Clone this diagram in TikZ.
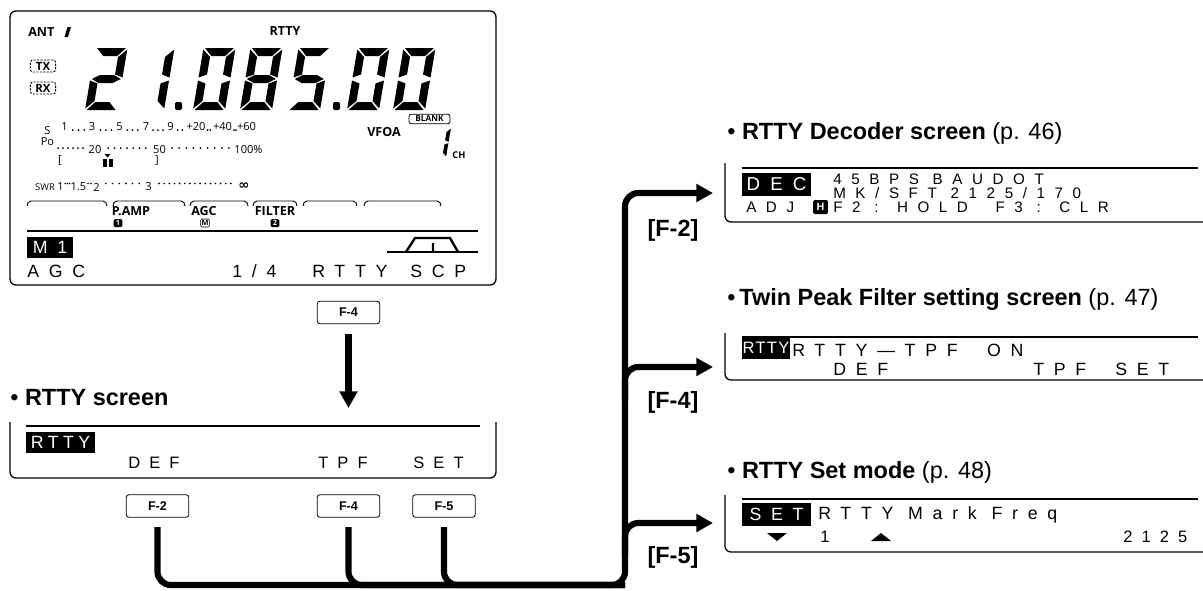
\documentclass[tikz,border=0pt]{standalone}
\usepackage{fontspec}
\setmainfont{Liberation Sans}
\newfontfamily\lcdfont[LetterSpace=55]{Liberation Sans}
\newfontfamily\lcdwide[LetterSpace=63]{Liberation Sans}
\newfontfamily\lcdmid[LetterSpace=25]{Liberation Sans}
\newfontfamily\lcdtight[LetterSpace=8]{Liberation Sans}
\newfontfamily\panelfont{Open Sans}
\newfontfamily\dejafont{DejaVu Sans}
\usetikzlibrary{arrows.meta, positioning}

% seven segment parts, origin at the bottom left of a digit
\def\sega{(1.5,-62) -- (30.5,-62) -- (23,-54) -- (9,-54) -- cycle}
\def\segb{(32,-60.5) -- (32,-32.5) -- (24,-35.5) -- (24,-53) -- cycle}
\def\segc{(32,-29.5) -- (32,-1.5) -- (24,-9) -- (24,-26.5) -- cycle}
\def\segd{(1.5,0) -- (30.5,0) -- (23,-8) -- (9,-8) -- cycle}
\def\sege{(0,-29.5) -- (8,-26.5) -- (8,-9) -- (0,-1.5) -- cycle}
\def\segf{(0,-60.5) -- (8,-53) -- (8,-35.5) -- (0,-32.5) -- cycle}
\def\segg{(1.5,-31) -- (9,-35) -- (23,-35) -- (30.5,-31) -- (23,-27) -- (9,-27) -- cycle}

\newcommand\lcddigit[3][1]{%
  \begin{scope}[shift={#2}, xslant=0.17, scale=#1]
    \foreach \s in {#3} {\fill \csname seg\s\endcsname;}
  \end{scope}}

\tikzset{
  frame/.style={line width=1pt, rounded corners=4.5pt},
  rule/.style={line width=1pt},
  lbl/.style={inner sep=0pt, font=\panelfont\bfseries\fontsize{9.4}{10}\selectfont},
  scaletxt/.style={inner sep=0pt, font=\panelfont\fontsize{8.3}{9}\selectfont},
  flag/.style={draw, dash pattern=on 1.6pt off 1pt, rounded corners=2pt, line width=0.7pt, minimum width=19pt, minimum height=9pt, inner sep=0pt, font=\panelfont\bfseries\fontsize{8.5}{9}\selectfont},
  icon/.style={fill=black, text=white, rounded corners=1pt, minimum width=6.5pt, minimum height=6pt, inner sep=0pt, font=\panelfont\bfseries\fontsize{5.5}{6}\selectfont},
  tab/.style={line width=0.7pt},
  lcd/.style={inner sep=0pt, anchor=west, font=\lcdfont\fontsize{13.3}{14}\selectfont},
  lcdkey/.style={lcd, font=\lcdfont\fontsize{12.4}{13}\selectfont},
  decline/.style={lcd, font=\lcdwide\fontsize{11.4}{12}\selectfont, text height=8pt, text depth=0pt},
  inverse/.style={fill=black, text=white, inner sep=0pt, font=\lcdfont\fontsize{13.3}{14}\selectfont},
  title/.style={inner sep=0pt, anchor=west, font=\fontsize{17.6}{18}\selectfont},
  keylbl/.style={inner sep=0pt, font=\bfseries\fontsize{17.6}{18}\selectfont},
  fkey/.style={draw, rounded corners=2.2pt, line width=0.6pt, minimum width=47pt, minimum height=17pt, inner sep=0pt, font=\bfseries\fontsize{9.5}{10}\selectfont},
  bus/.style={line width=4.6pt, rounded corners=10pt},
  arr/.style={bus, -{Triangle[length=12.5pt, width=13pt]}}
}

\begin{document}
\begin{tikzpicture}[x=0.75pt, y=-0.75pt]
\useasboundingbox (0,0) rectangle (1203,590);

% main display
\draw[frame] (10,11) rectangle (496,285);
\node[lbl, anchor=west] (ant) at (28,32) {ANT};
\fill (64.5,37) -- (68,37) -- (71,27) -- (67.5,27) -- cycle;
\node[lbl] (mode) at (285,31) {RTTY};
\node[flag] (tx) at (43,66) {TX};
\node[flag] (rx) at (43,88) {RX};
\lcddigit{(85,110)}{a,b,g,e,d}
\lcddigit{(132,110)}{b,c}
\fill[rounded corners=1pt] (175,102) rectangle (182,110);
\lcddigit{(193,110)}{a,b,c,d,e,f}
\lcddigit{(240,110)}{a,b,c,d,e,f,g}
\lcddigit{(288,110)}{a,f,g,c,d}
\fill[rounded corners=1pt] (333,102) rectangle (340,110);
\lcddigit{(347,110)}{a,b,c,d,e,f}
\lcddigit{(393,110)}{a,b,c,d,e,f}
\node[draw, rounded corners=1.5pt, line width=0.6pt, minimum width=30.75pt, minimum height=7pt, inner sep=0pt, font=\panelfont\bfseries\fontsize{6.2}{7}\selectfont] (blank) at (429.5,119) {BLANK};
\node[lbl] (vfo) at (384,132) {VFOA};
\lcddigit[0.47]{(431,157)}{b,c}
\node[lbl, font=\panelfont\bfseries\fontsize{7}{7}\selectfont] (ch) at (459,155) {CH};

% meters
\node[scaletxt] (s) at (47.5,131) {S};
\node[scaletxt] (po) at (47.5,142) {Po};
\node[scaletxt, font=\panelfont\fontsize{7}{7}\selectfont] (swr) at (45,187) {SWR};
\foreach \v/\x [count=\i] in {1/64.5, 3/92, 5/119.5, 7/146, 9/170.5, +20/196, +40/222.5, +60/246.5}
  \node[scaletxt] (sv\i) at (\x,127) {\v};
\foreach \a/\b/\n in {67/90/3, 95/117/3, 122/143/3, 148/168/3, 173/187/2, 205/213/2, 232/238/2}
  \foreach \k in {1,...,\n} \fill ({\a+(\b-\a)*\k/(\n+1)},130) circle (1);
\foreach \v/\x [count=\i] in {20/95, 50/159.5, 100\%/248.5}
  \node[scaletxt] (pv\i) at (\x,149.5) {\v};
\foreach \a/\b/\n in {53/88/6, 102/152/7, 165/236/9}
  \foreach \k in {1,...,\n} \fill ({\a+(\b-\a)*\k/(\n+1)},148) circle (1);
\node[scaletxt] (lb) at (60,160) {[};
\node[scaletxt] (rb) at (157,160) {]};
\fill (104.5,154) -- (110.5,154) -- (107.5,157.5) -- cycle;
\fill (103,158.5) rectangle (107,167);
\fill (109,158.5) rectangle (113,167);
\foreach \v/\x [count=\i] in {1/60.5, 1.5/78.5, 2/96.5, 3/148.5}
  \node[scaletxt] (wv\i) at (\x,187) {\v};
\foreach \a/\b/\n in {63/72/3, 85/94/2, 99/146/6, 154/236/15}
  \foreach \k in {1,...,\n} \fill ({\a+(\b-\a)*\k/(\n+1)},183.5) circle (0.9);
\node[scaletxt, font=\dejafont\bfseries\fontsize{10}{10}\selectfont] (inf) at (244,186.5) {∞};

% function tabs
\foreach \a/\b in {27/107, 113/185, 190/248, 253/297, 303/357, 364/441}
  \draw[tab] (\a,206) to[out=90, in=180] (\a+4,201) -- (\b-4,201) to[out=0, in=90] (\b,206);
\node[lbl] (pamp) at (131,211) {P.AMP};
\node[lbl] (agc) at (204,211) {AGC};
\node[lbl] (filt) at (275,211) {FILTER};
\node[icon] (ic1) at (118,223) {1};
\node[icon, fill=white, text=black, draw, line width=0.5pt] (icm) at (205,223) {M};
\node[icon] (ic2) at (275,223) {2};
\draw[rule] (27,231) -- (478,231);
\node[inverse, minimum width=34.5pt, minimum height=15.75pt] (m1) at (50,247.5) {M1};
\node[lcd] (agcb) at (27,271) {AGC};
\node[lcd] (page) at (232,271) {1/4};
\node[lcd] (rtty) at (312,271) {RTTY};
\node[lcd] (scp) at (410,271) {SCP};
\draw[line width=1.3pt] (387,252) -- (478,252);
\draw[line width=1.8pt] (406,252) -- (415,238) -- (450,238) -- (458,252) (433,243) -- (433,252);

% RTTY screen
\node[fkey] (f4top) at (348.5,312.5) {F-4};
\coordinate (rttyin) at (348.5,408);
\draw[arr, shorten <=7pt] (f4top) -- (rttyin);
\node[title] (ttlrtty) at (10,398) {\textbullet\ \textbf{RTTY screen}};
\draw[frame] (10,422) -- (10,478) -- (496,478) -- (496,422);
\draw[rule] (26,426) -- (480,426);
\node[inverse, font=\lcdmid\fontsize{13.3}{14}\selectfont, minimum width=51.75pt, minimum height=15.75pt] (inrtty) at (60.5,442.5) {RTTY};
\node[lcdkey] (def) at (128,463) {DEF};
\node[lcdkey] (tpf) at (318,463) {TPF};
\node[lcdkey] (set) at (413,463) {SET};
\node[fkey] (f2) at (157.5,506) {F-2};
\node[fkey] (f4) at (348.5,506) {F-4};
\node[fkey] (f5) at (444,506) {F-5};

% connectors
\coordinate (bus) at (625,585);
\coordinate (decin) at (713,193);
\coordinate (tpfin) at (713,367);
\coordinate (setin) at (713,523);
\coordinate (tpfbr) at (625,400);
\coordinate (setbr) at (625,555);
\draw[arr, shorten <=7pt] (f2) |- (bus) |- (decin);
\draw[bus, shorten <=7pt] (f4) |- (bus);
\draw[bus, shorten <=7pt] (f5) |- (bus);
\draw[arr] (tpfbr) |- (tpfin);
\draw[arr] (setbr) |- (setin);
\node[keylbl] (lf2) at (673,230) {[F-2]};
\node[keylbl] (lf4) at (673,402) {[F-4]};
\node[keylbl] (lf5) at (673,557) {[F-5]};

% decoder screen
\node[title] (ttldec) at (727,133) {\textbullet\ \textbf{RTTY Decoder screen} (p. 46)};
\draw[frame] (725,163) -- (725,222) -- (1203,222);
\draw[rule] (742,168) -- (1198,168);
\node[inverse, font=\lcdfont\fontsize{14}{14}\selectfont, minimum width=51.75pt, minimum height=17.25pt] (dec) at (776.5,184.5) {DEC};
\node[decline] (dec1) at (833,179) {45BPS BAUDOT};
\node[decline] (dec2) at (833,193) {MK/SFT 2125/170};
\node[decline] (dec3) at (746,207) {ADJ};
\node[icon, minimum width=11pt, minimum height=10.5pt, font=\bfseries\fontsize{8}{8}\selectfont] (hold) at (820.5,207) {H};
\node[decline] (dec4) at (833,207) {F2 : HOLD\ \ F3 : CLR};

% twin peak filter screen
\node[title] (ttltpf) at (727,299) {\textbullet\,\textbf{Twin Peak Filter setting screen} (p. 47)};
\draw[frame] (725,333) -- (725,380) -- (1203,380);
\draw[rule] (742,337) -- (1198,337);
\node[inverse, font=\lcdtight\fontsize{12.4}{13}\selectfont, minimum width=36pt, minimum height=16.5pt] (tpfinv) at (766,348) {RTTY};
\node[lcd] (tpf1) at (792,350) {RTTY—TPF\ \ ON};
\node[lcd] (tdef) at (833,369) {DEF};
\node[lcd] (ttpf) at (1033,369) {TPF};
\node[lcd] (tset) at (1115,369) {SET};

% set mode screen
\node[title] (ttlset) at (727,472) {\textbullet\ \textbf{RTTY Set mode} (p. 48)};
\draw[frame] (725,495) -- (725,552) -- (1203,552);
\draw[rule] (742,499) -- (1198,499);
\node[inverse, minimum width=51.75pt, minimum height=17.25pt] (setinv) at (776.5,514.5) {SET};
\node[lcd] (set1) at (818,515) {RTTY Mark Freq};
\fill (767,533) -- (787,533) -- (777,541) -- cycle;
\node[lcdkey] (setch) at (820,537) {1};
\fill (871,541) -- (891,541) -- (881,533) -- cycle;
\node[lcdkey] (setval) at (1123,537) {2125};
\end{tikzpicture}
\end{document}
